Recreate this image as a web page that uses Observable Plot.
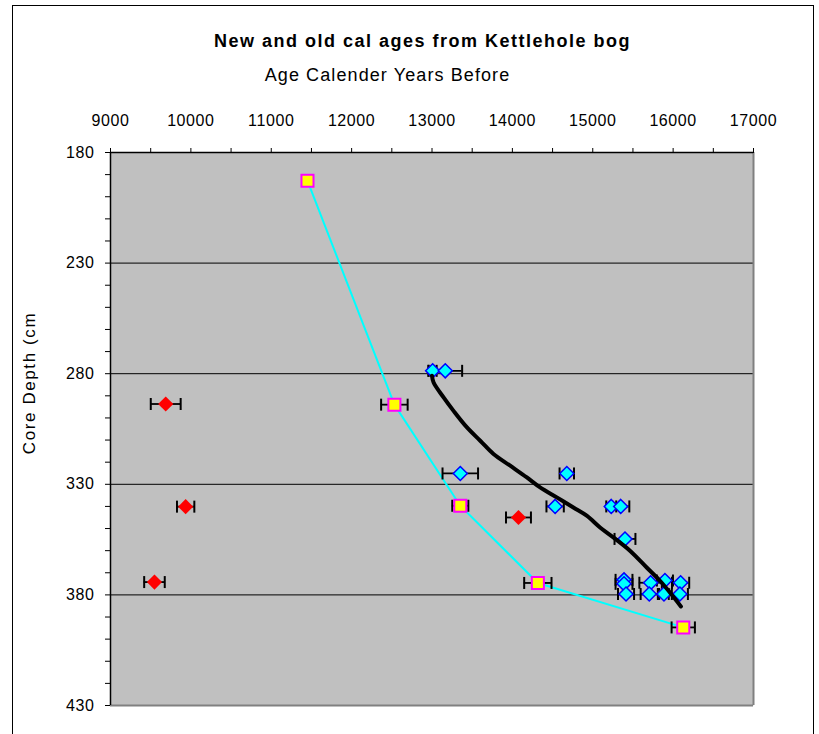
<!DOCTYPE html>
<html>
<head>
<meta charset="utf-8">
<script src="https://cdn.jsdelivr.net/npm/d3@7"></script>
<script src="https://cdn.jsdelivr.net/npm/@observablehq/plot@0.6"></script>
<style>
  html, body { margin: 0; padding: 0; background: white; }
  #wrap { position: relative; width: 819px; height: 734px; overflow: hidden; }
  #border { position: absolute; left: 12px; top: 5px; width: 802px; height: 740px; border: 1px solid #000; box-sizing: border-box; pointer-events: none; }
  #chart { position: absolute; left: 0; top: 0; }
</style>
</head>
<body>
<div id="wrap"><div id="chart"></div><div id="border"></div></div>
<script>
// Title texts
const titleText = "New and old cal ages from Kettlehole bog";
const xLabelText = "Age Calender Years Before";
const yLabelText = "Core Depth (cm";

// Axis ticks
const xTicks = d3.range(9000, 17001, 500);
const yTicks = d3.range(180, 431, 10);
const gridDepths = [230, 280, 330, 380];

// Yellow squares (connected by cyan line)
const squareAge   = [11451, 12532, 13352, 14317, 16126];
const squareDepth = [192.8, 294.0, 339.7, 374.6, 394.7];
const squareErr   = [50, 165, 100, 170, 145];

// Red diamonds
const redAge   = [9687, 9935, 9547, 14076];
const redDepth = [293.7, 340.1, 374.2, 345.0];
const redErr   = [186, 108, 128, 155];

// Cyan diamonds
const cyanAge   = [13008, 13165, 13352, 14677, 14532, 15230, 15348, 15401, 15389, 15389, 15720, 15898, 16093, 15414, 15703, 15886, 16084];
const cyanDepth = [278.7, 278.7, 325.1, 325.1, 340.0, 340.0, 340.0, 354.7, 373.2, 375.0, 374.5, 373.5, 374.5, 379.6, 379.6, 379.6, 379.6];
const cyanErr   = [50, 210, 221, 90, 108, 62, 107, 130, 105, 105, 140, 100, 107, 100, 107, 60, 100];

// Black trend curve
const curveAge   = [13000, 13020, 13144, 13268, 13435, 13600, 13765, 13973, 14180, 14345, 14553, 14759, 14925, 15091, 15256, 15463, 15671, 15836, 15960, 16097];
const curveDepth = [280.9, 284.0, 290.7, 296.8, 304.3, 310.3, 316.3, 321.6, 326.9, 331.4, 335.9, 340.5, 344.2, 349.5, 354.0, 360.0, 367.6, 373.6, 378.9, 385.2];

const zip = (a, b, c) => a.map((v, i) => ({x: v, y: b[i], e: c ? c[i] : 0}));
const squares = zip(squareAge, squareDepth, squareErr);
const reds = zip(redAge, redDepth, redErr);
const cyans = zip(cyanAge, cyanDepth, cyanErr);
const curve = zip(curveAge, curveDepth);
const allErr = [...reds, ...cyans, ...squares];

const rhombus = { draw(ctx, size) { const h = Math.sqrt(size / Math.PI); ctx.moveTo(0, -h); ctx.lineTo(h, 0); ctx.lineTo(0, h); ctx.lineTo(-h, 0); ctx.closePath(); } };
const vbar = { draw(ctx, size) { const h = Math.sqrt(size / Math.PI); ctx.moveTo(0, -h); ctx.lineTo(0, h); } };

const font = "Liberation Sans, Arial, Helvetica, sans-serif";

const chart = Plot.plot({
  width: 819,
  height: 734,
  marginLeft: 110,
  marginRight: 66,
  marginTop: 152,
  marginBottom: 29,
  style: { fontFamily: font, fontSize: "16px", background: "white", overflow: "visible", color: "black" },
  x: { domain: [9000, 17000] },
  y: { domain: [180, 430], reverse: true },
  marks: [
    Plot.frame({ fill: "#c0c0c0", stroke: null }),
    Plot.ruleY(gridDepths, { stroke: "black", strokeWidth: 1 }),
    Plot.ruleX([17000], { stroke: "#808080", strokeWidth: 2 }),
    Plot.ruleY([430], { stroke: "#808080", strokeWidth: 2 }),
    Plot.ruleX([9000], { stroke: "black", strokeWidth: 1.5 }),
    Plot.ruleY([180], { stroke: "black", strokeWidth: 1.5 }),
    Plot.axisX({ anchor: "top", ticks: xTicks, tickFormat: d => d % 1000 === 0 ? String(d) : "", tickSize: 5, tickPadding: 22, fontSize: 16, label: null }),
    Plot.axisY({ anchor: "left", ticks: yTicks, tickFormat: d => (d - 180) % 50 === 0 ? String(d) : "", tickSize: 5, tickPadding: 11, fontSize: 16, label: null }),
    // cyan connecting line
    Plot.line(squares, { x: "x", y: "y", stroke: "#00ffff", strokeWidth: 2 }),
    // error bars
    Plot.ruleY(allErr, { y: "y", x1: d => d.x - d.e, x2: d => d.x + d.e, stroke: "black", strokeWidth: 1.8 }),
    Plot.dot(allErr, { x: d => d.x - d.e, y: "y", symbol: vbar, r: 6, stroke: "black", strokeWidth: 2 }),
    Plot.dot(allErr, { x: d => d.x + d.e, y: "y", symbol: vbar, r: 6, stroke: "black", strokeWidth: 2 }),
    // markers
    Plot.dot(reds, { x: "x", y: "y", symbol: rhombus, r: 7.6, fill: "#ff0000", stroke: null }),
    Plot.dot(cyans, { x: "x", y: "y", symbol: rhombus, r: 7, fill: "#00ffff", stroke: "#0000ff", strokeWidth: 1.5 }),
    Plot.dot(squares, { x: "x", y: "y", symbol: "square", r: 6.8, fill: "#ffff00", stroke: "#ff00ff", strokeWidth: 2 }),
    // trend curve
    Plot.line(curve, { x: "x", y: "y", stroke: "black", strokeWidth: 4, curve: "catmull-rom" }),
    // titles
    Plot.text([titleText], { frameAnchor: "top-left", dx: 312, dy: -111, lineAnchor: "middle", textAnchor: "middle", fontSize: 18, fontWeight: "bold", fill: "black" }),
    Plot.text([xLabelText], { frameAnchor: "top-left", dx: 277, dy: -77, lineAnchor: "middle", textAnchor: "middle", fontSize: 18, fill: "black" }),
    Plot.text([yLabelText], { frameAnchor: "left", dx: -81, dy: -46, rotate: -90, lineAnchor: "middle", textAnchor: "middle", fontSize: 17, fill: "black" })
  ]
});
chart.querySelectorAll("text").forEach(t => {
  const s = t.textContent;
  if (s === titleText) t.style.letterSpacing = "1.5px";
  else if (s === xLabelText) t.style.letterSpacing = "1.1px";
  else if (s === yLabelText) t.style.letterSpacing = "1.6px";
  else t.style.letterSpacing = "0.6px";
});
document.getElementById("chart").appendChild(chart);
</script>
</body>
</html>
